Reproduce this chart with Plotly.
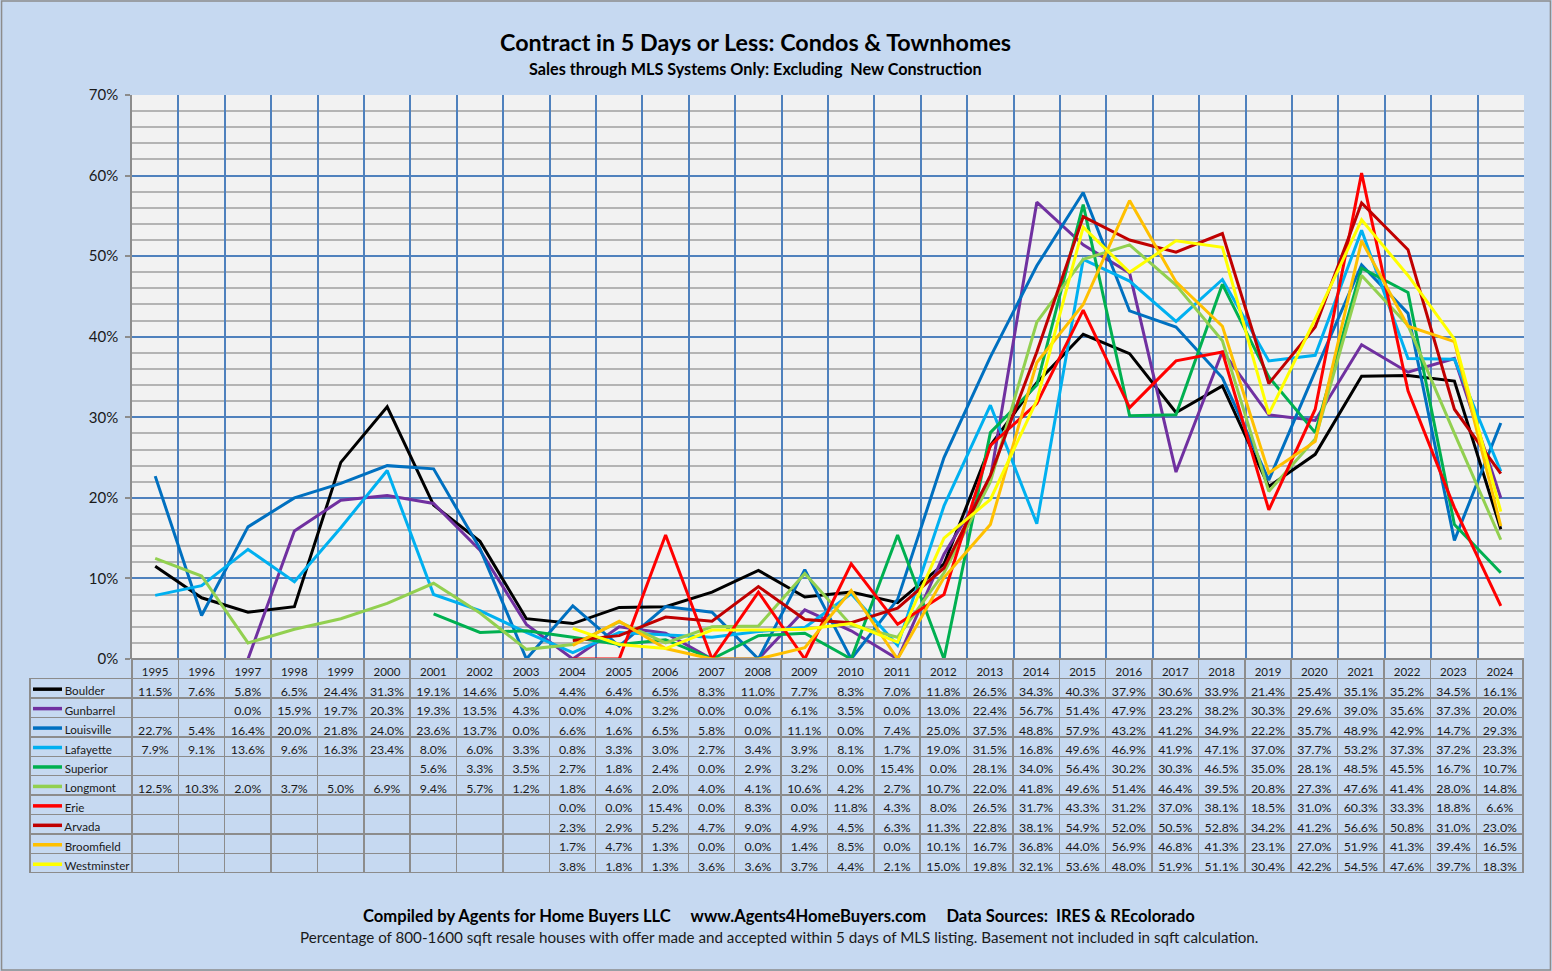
import plotly.graph_objects as go

years = list(range(1995, 2025))
names = ["Boulder", "Gunbarrel", "Louisville", "Lafayette", "Superior",
         "Longmont", "Erie", "Arvada", "Broomfield", "Westminster"]
colors = ["#000000", "#7030a0", "#0070c0", "#00b0f0", "#00b050",
          "#92d050", "#ff0000", "#c00000", "#ffc000", "#ffff00"]

boulder = [11.5, 7.6, 5.8, 6.5, 24.4, 31.3, 19.1, 14.6, 5.0, 4.4, 6.4, 6.5, 8.3, 11.0, 7.7,
           8.3, 7.0, 11.8, 26.5, 34.3, 40.3, 37.9, 30.6, 33.9, 21.4, 25.4, 35.1, 35.2, 34.5, 16.1]
gunbarrel = [None, None, 0.0, 15.9, 19.7, 20.3, 19.3, 13.5, 4.3, 0.0, 4.0, 3.2, 0.0, 0.0, 6.1,
             3.5, 0.0, 13.0, 22.4, 56.7, 51.4, 47.9, 23.2, 38.2, 30.3, 29.6, 39.0, 35.6, 37.3, 20.0]
louisville = [22.7, 5.4, 16.4, 20.0, 21.8, 24.0, 23.6, 13.7, 0.0, 6.6, 1.6, 6.5, 5.8, 0.0, 11.1,
              0.0, 7.4, 25.0, 37.5, 48.8, 57.9, 43.2, 41.2, 34.9, 22.2, 35.7, 48.9, 42.9, 14.7, 29.3]
lafayette = [7.9, 9.1, 13.6, 9.6, 16.3, 23.4, 8.0, 6.0, 3.3, 0.8, 3.3, 3.0, 2.7, 3.4, 3.9,
             8.1, 1.7, 19.0, 31.5, 16.8, 49.6, 46.9, 41.9, 47.1, 37.0, 37.7, 53.2, 37.3, 37.2, 23.3]
superior = [None, None, None, None, None, None, 5.6, 3.3, 3.5, 2.7, 1.8, 2.4, 0.0, 2.9, 3.2,
            0.0, 15.4, 0.0, 28.1, 34.0, 56.4, 30.2, 30.3, 46.5, 35.0, 28.1, 48.5, 45.5, 16.7, 10.7]
longmont = [12.5, 10.3, 2.0, 3.7, 5.0, 6.9, 9.4, 5.7, 1.2, 1.8, 4.6, 2.0, 4.0, 4.1, 10.6,
            4.2, 2.7, 10.7, 22.0, 41.8, 49.6, 51.4, 46.4, 39.5, 20.8, 27.3, 47.6, 41.4, 28.0, 14.8]
erie = [None, None, None, None, None, None, None, None, None, 0.0, 0.0, 15.4, 0.0, 8.3, 0.0,
        11.8, 4.3, 8.0, 26.5, 31.7, 43.3, 31.2, 37.0, 38.1, 18.5, 31.0, 60.3, 33.3, 18.8, 6.6]
arvada = [None, None, None, None, None, None, None, None, None, 2.3, 2.9, 5.2, 4.7, 9.0, 4.9,
          4.5, 6.3, 11.3, 22.8, 38.1, 54.9, 52.0, 50.5, 52.8, 34.2, 41.2, 56.6, 50.8, 31.0, 23.0]
broomfield = [None, None, None, None, None, None, None, None, None, 1.7, 4.7, 1.3, 0.0, 0.0, 1.4,
              8.5, 0.0, 10.1, 16.7, 36.8, 44.0, 56.9, 46.8, 41.3, 23.1, 27.0, 51.9, 41.3, 39.4, 16.5]
westminster = [None, None, None, None, None, None, None, None, None, 3.8, 1.8, 1.3, 3.6, 3.6, 3.7,
               4.4, 2.1, 15.0, 19.8, 32.1, 53.6, 48.0, 51.9, 51.1, 30.4, 42.2, 54.5, 47.6, 39.7, 18.3]

series = [boulder, gunbarrel, louisville, lafayette, superior,
          longmont, erie, arvada, broomfield, westminster]

title = "<b>Contract in 5 Days or Less: Condos &amp; Townhomes</b>"
subtitle = "<b>Sales through MLS Systems Only: Excluding\u00a0\u00a0New Construction</b>"
footer1 = ("<b>Compiled by Agents for Home Buyers LLC\u00a0\u00a0\u00a0\u00a0\u00a0"
           "www.Agents4HomeBuyers.com\u00a0\u00a0\u00a0\u00a0\u00a0"
           "Data Sources:\u00a0\u00a0IRES &amp; REcolorado</b>")
footer2 = ("Percentage of 800-1600 sqft resale houses with offer made and accepted within "
           "5 days of MLS listing. Basement not included in sqft calculation.")

BG = "#c6d9f1"
FONT = "Lato"
W, H = 1552, 971
ROW = 19.45
TABLE_TOP = 659

fig = go.Figure()
for name, vals, col in zip(names, series, colors):
    fig.add_trace(go.Scatter(x=years, y=vals, mode="lines", name=name,
                             line=dict(color=col, width=3), connectgaps=False,
                             showlegend=False))

# data table
first_col = ["\u00a0" * 9 + n for n in names]
value_cols = []
for i in range(len(years)):
    value_cols.append(["" if s[i] is None else "%.1f%%" % s[i] for s in series])

fig.add_trace(go.Table(
    domain=dict(x=[30 / W, 1524 / W], y=[1 - (TABLE_TOP + 11 * ROW + 1) / H, 1 - TABLE_TOP / H]),
    columnwidth=[102] + [46.4] * len(years),
    header=dict(values=[""] + [str(y) for y in years],
                height=ROW,
                fill=dict(color=["rgba(0,0,0,0)"] + [BG] * len(years)),
                line=dict(color=["rgba(0,0,0,0)"] + ["#8c8c8c"] * len(years), width=1.5),
                font=dict(family=FONT, size=11.5, color="#1a1a1a"),
                align="center"),
    cells=dict(values=[first_col] + value_cols,
               height=ROW,
               fill=dict(color=BG),
               line=dict(color="#8c8c8c", width=1.5),
               font=dict(family=FONT, size=[11.6] + [12.3] * len(years), color="#1a1a1a"),
               align=["left"] + ["center"] * len(years)),
))

shapes = [
    dict(type="rect", xref="paper", yref="paper", x0=0.001, x1=0.999, y0=0.001, y1=0.999,
         line=dict(color="#8c8c8c", width=1.5), fillcolor="rgba(0,0,0,0)", layer="below"),
]
# legend swatches in the table's first column
for k, col in enumerate(colors):
    yc = 1 - (TABLE_TOP + ROW * (k + 1.5) + 1) / H
    shapes.append(dict(type="line", xref="paper", yref="paper",
                       x0=33 / W, x1=62 / W, y0=yc, y1=yc,
                       line=dict(color=col, width=3.5)))

fig.update_layout(
    width=W, height=H,
    margin=dict(l=0, r=0, t=0, b=0, pad=0, autoexpand=False),
    paper_bgcolor=BG,
    plot_bgcolor="#f2f2f2",
    font=dict(family=FONT, color="#000000"),
    xaxis=dict(domain=[132 / W, 1524 / W], range=[1994.5, 2024.5],
               tick0=1994.5, dtick=1, showticklabels=False, ticks="",
               showgrid=True, gridcolor="#4f81bd", gridwidth=1.5,
               zeroline=False, showline=False, fixedrange=True, automargin=False),
    yaxis=dict(domain=[1 - 659 / H, 1 - 95 / H], range=[0, 70],
               tick0=0, dtick=10, ticksuffix="%",
               showgrid=True, gridcolor="#4f81bd", gridwidth=2,
               minor=dict(dtick=2, showgrid=True, gridcolor="#b4b4b4", gridwidth=1.5),
               showline=True, linecolor="#8c8c8c", linewidth=1.5,
               ticks="outside", ticklen=5, tickcolor="#8c8c8c", tickwidth=1.5,
               ticklabelstandoff=4,
               tickfont=dict(family=FONT, size=15, color="#1a1a1a"),
               zeroline=False, fixedrange=True, automargin=False),
    annotations=[
        dict(text=title, x=755 / W, y=1 - 42 / H, xref="paper", yref="paper",
             xanchor="center", yanchor="middle",
             showarrow=False, font=dict(family=FONT, size=23.3, color="#000000")),
        dict(text=subtitle, x=755 / W, y=1 - 68 / H, xref="paper", yref="paper",
             xanchor="center", yanchor="middle",
             showarrow=False, font=dict(family=FONT, size=16.2, color="#000000")),
        dict(text=footer1, x=779 / W, y=1 - 916 / H, xref="paper", yref="paper",
             xanchor="center", yanchor="middle",
             showarrow=False, font=dict(family=FONT, size=16.6, color="#000000")),
        dict(text=footer2, x=779 / W, y=1 - 937 / H, xref="paper", yref="paper",
             xanchor="center", yanchor="middle",
             showarrow=False, font=dict(family=FONT, size=15.2, color="#1a1a1a")),
    ],
    shapes=shapes,
)

fig.write_html("out.html", config={"displayModeBar": False},
               post_script="document.body.style.margin='0';")
